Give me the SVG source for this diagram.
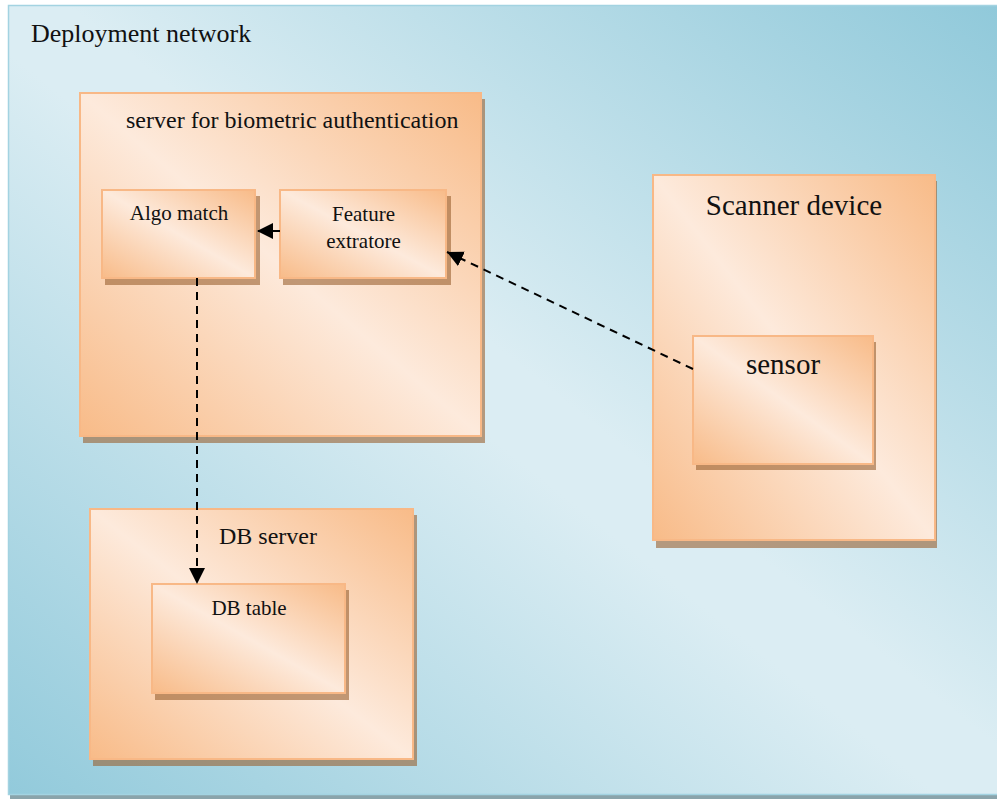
<svg xmlns="http://www.w3.org/2000/svg" width="997" height="799" viewBox="0 0 997 799">
  <defs>
    <!-- diagonal sheen: saturated corners at bottom-left/top-right, light across the middle -->
    <linearGradient id="bgFill" x1="0" y1="1" x2="1" y2="0">
      <stop offset="0" stop-color="#92cadb"/>
      <stop offset="0.47" stop-color="#dbedf3"/>
      <stop offset="0.53" stop-color="#dbedf3"/>
      <stop offset="1" stop-color="#90c9da"/>
    </linearGradient>
    <linearGradient id="boxFill" x1="0" y1="1" x2="1" y2="0">
      <stop offset="0" stop-color="#f8bb88"/>
      <stop offset="0.5" stop-color="#fdeadc"/>
      <stop offset="1" stop-color="#f8bb88"/>
    </linearGradient>
    <marker id="arrow" viewBox="0 0 16 16" refX="16" refY="8" markerWidth="16" markerHeight="16" markerUnits="userSpaceOnUse" orient="auto">
      <path d="M0,0 L16,8 L0,16 Z" fill="#000"/>
    </marker>
  </defs>
  <style>
    .shadow { fill: #9a6030; fill-opacity: 0.6; }
    .box { fill: url(#boxFill); stroke: #f8b886; stroke-width: 2; }
    .label { font-family: "Liberation Serif", "Times New Roman", serif; fill: #111; }
    .link { fill: none; stroke: #000; stroke-width: 2; stroke-dasharray: 8 6; }
  </style>

  <!-- deployment network frame -->
  <g id="deployment-network">
    <rect x="10" y="8" width="987" height="791" fill="#8aa4ab"/>
    <rect x="8.5" y="5.5" width="990" height="789" fill="url(#bgFill)" stroke="#a3d3e1" stroke-width="1.5"/>
    <text class="label" x="31" y="42" font-size="26">Deployment network</text>
  </g>

  <g id="auth-server">
    <rect class="shadow" x="83" y="99" width="402" height="344"/>
    <rect class="box" x="80" y="93" width="401" height="343"/>
    <text class="label" x="126" y="128" font-size="24">server for biometric authentication</text>
  </g>

  <g id="algo-match">
    <rect class="shadow" x="105" y="196" width="155" height="89"/>
    <rect class="box" x="102" y="190" width="153" height="88"/>
    <text class="label" x="179" y="220" font-size="21" text-anchor="middle">Algo match</text>
  </g>

  <g id="feature-extractor">
    <rect class="shadow" x="283" y="196" width="168" height="89"/>
    <rect class="box" x="280" y="190" width="166" height="88"/>
    <text class="label" x="363.5" y="221" font-size="21" text-anchor="middle">Feature</text>
    <text class="label" x="363.5" y="248" font-size="21" text-anchor="middle">extratore</text>
  </g>

  <g id="scanner-device">
    <rect class="shadow" x="656" y="181" width="281" height="367"/>
    <rect class="box" x="653" y="175" width="282" height="365"/>
    <text class="label" x="794" y="215" font-size="29" text-anchor="middle">Scanner device</text>
  </g>

  <g id="sensor">
    <rect class="shadow" x="696" y="342" width="180" height="128"/>
    <rect class="box" x="693" y="336" width="180" height="128"/>
    <text class="label" x="783" y="374" font-size="29" text-anchor="middle">sensor</text>
  </g>

  <g id="db-server">
    <rect class="shadow" x="93" y="515" width="324" height="251"/>
    <rect class="box" x="90" y="509" width="323" height="250"/>
    <text class="label" x="219" y="544" font-size="24">DB server</text>
  </g>

  <g id="db-table">
    <rect class="shadow" x="155" y="590" width="194" height="110"/>
    <rect class="box" x="152" y="584" width="193" height="109"/>
    <text class="label" x="249" y="615" font-size="21" text-anchor="middle">DB table</text>
  </g>

  <g id="connectors">
    <line class="link" x1="280" y1="231" x2="257" y2="231" marker-end="url(#arrow)"/>
    <line class="link" x1="693" y1="369" x2="447" y2="252" marker-end="url(#arrow)"/>
    <line class="link" x1="197" y1="278" x2="197" y2="584" marker-end="url(#arrow)"/>
  </g>
</svg>
